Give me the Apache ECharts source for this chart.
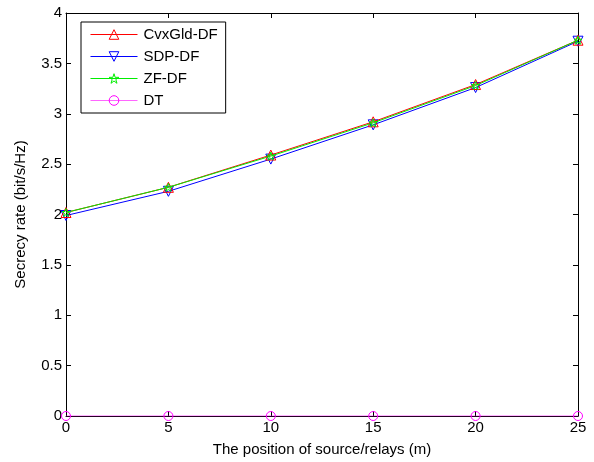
<!DOCTYPE html>
<html>
<head>
<meta charset="utf-8">
<script src="https://cdn.jsdelivr.net/npm/echarts@6/dist/echarts.min.js"></script>
<style>
html, body { margin: 0; padding: 0; background: #fff; }
#chart { width: 594px; height: 462px; }
</style>
</head>
<body>
<div id="chart"></div>
<script>
// 数据
var positions = [0, 5, 10, 15, 20, 25]
var cvxGld = [2.02, 2.27, 2.59, 2.92, 3.29, 3.73]
var sdp = [1.99, 2.23, 2.55, 2.89, 3.26, 3.72]
var zf = [2.02, 2.27, 2.58, 2.91, 3.28, 3.73]
var dt = [0, 0, 0, 0, 0, 0]

var invTri = 'path://M0,0 L10,0 L5,9 Z'
var star = 'path://M5,0 L6.2,3.6 L10,3.6 L6.9,5.8 L8.1,9.5 L5,7.2 L1.9,9.5 L3.1,5.8 L0,3.6 L3.8,3.6 Z'

function pairs(arr) {
	return arr.map(function (v, i) { return [positions[i], v] })
}

function makeSeries(name, data, color, symbol, size, z) {
	return {
		name: name,
		type: 'line',
		data: pairs(data),
		symbol: symbol,
		symbolSize: size,
		showAllSymbol: true,
		z: z,
		lineStyle: { color: color, width: 1 },
		itemStyle: { color: 'rgba(255,255,255,0)', borderColor: color, borderWidth: 1 },
		emphasis: { disabled: true },
		animation: false
	}
}

var font = 'Arial, "Liberation Sans", sans-serif'

var myChart = echarts.init(document.getElementById('chart'))
var axisCommon = {
	axisLine: { show: true, onZero: false, lineStyle: { color: '#000', width: 1 } },
	axisTick: { show: true, inside: true, length: 5, lineStyle: { color: '#000' } },
	splitLine: { show: false }
}

myChart.setOption({
	backgroundColor: '#fff',
	animation: false,
	grid: { left: 66, right: 16, top: 13, bottom: 46 },
	legend: {
		left: 81, top: 22,
		orient: 'vertical',
		backgroundColor: '#fff',
		borderColor: '#000',
		borderWidth: 1,
		padding: [5, 8, 5, 9],
		itemWidth: 47,
		itemHeight: 12,
		itemGap: 7,
		itemStyle: { borderWidth: 1 },
		lineStyle: { width: 1 },
		textStyle: { fontFamily: font, fontSize: 15, color: '#000', padding: [0, 0, 0, 1] },
		data: ['CvxGld-DF', 'SDP-DF', 'ZF-DF', 'DT']
	},
	xAxis: [
		Object.assign({
			type: 'value', min: 0, max: 25, interval: 5,
			name: 'The position of source/relays (m)',
			nameLocation: 'middle', nameGap: 26,
			nameTextStyle: { fontFamily: font, fontSize: 15, color: '#000' },
			axisLabel: { fontFamily: font, fontSize: 15, color: '#000', margin: 4 }
		}, axisCommon),
		Object.assign({
			type: 'value', min: 0, max: 25, interval: 5, position: 'top',
			axisLabel: { show: false }
		}, axisCommon)
	],
	yAxis: [
		Object.assign({
			type: 'value', min: 0, max: 4, interval: 0.5,
			name: 'Secrecy rate (bit/s/Hz)',
			nameLocation: 'middle', nameGap: 38,
			nameTextStyle: { fontFamily: font, fontSize: 15, color: '#000' },
			axisLabel: { fontFamily: font, fontSize: 15, color: '#000', margin: 4 }
		}, axisCommon),
		Object.assign({
			type: 'value', min: 0, max: 4, interval: 0.5, position: 'right',
			axisLabel: { show: false }
		}, axisCommon)
	],
	series: [
		makeSeries('CvxGld-DF', cvxGld, '#ff0000', 'triangle', 10, 3),
		makeSeries('SDP-DF', sdp, '#0000ff', invTri, 10, 2),
		makeSeries('ZF-DF', zf, '#00ee00', star, 8, 4),
		(function () {
			var s = makeSeries('DT', dt, '#ff00ff', 'circle', 9, 5)
			s.lineStyle.opacity = 0.6
			return s
		})()
	]
})
</script>
</body>
</html>
